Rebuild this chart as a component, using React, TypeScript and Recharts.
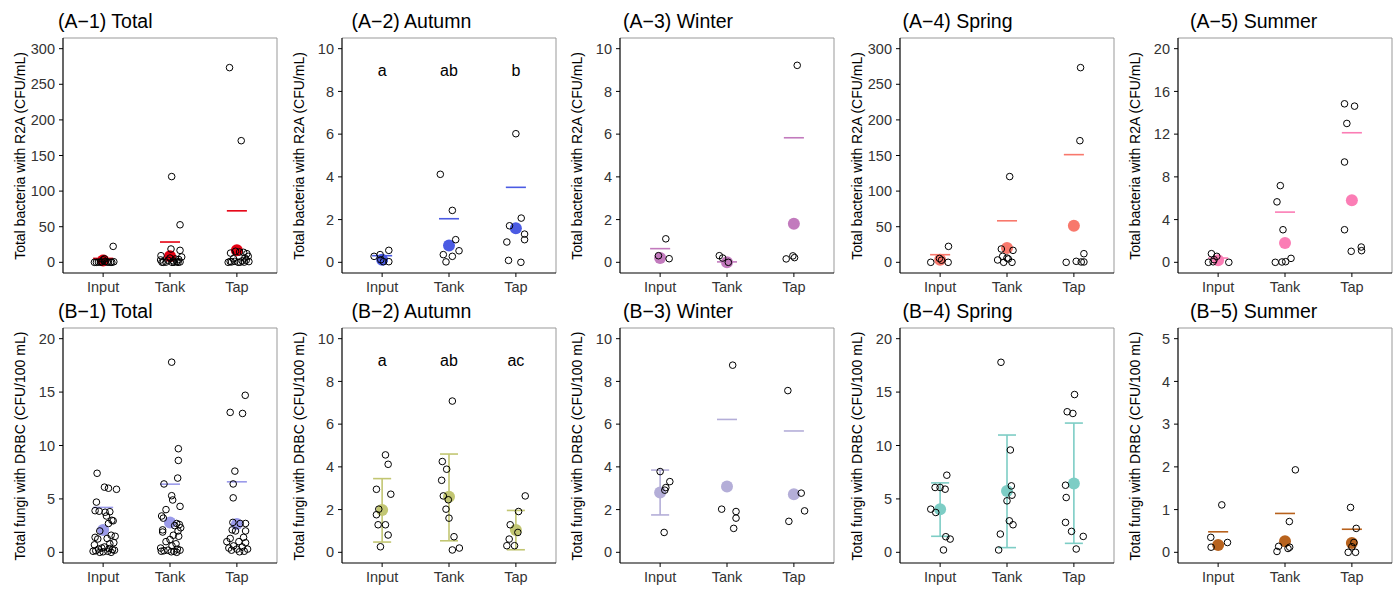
import { ScatterChart, Scatter, XAxis, YAxis, ReferenceLine } from 'recharts';

const groups = ['Input', 'Tank', 'Tap'];
const bacLabel = 'Total bacteria with R2A (CFU/mL)';
const funLabel = 'Total fungi with DRBC (CFU/100 mL)';

// (A-1) Total, R2A
const a1Values = [
  [22.4, 0, 0.3, 0.5, 1.1, 0.2, 0, 3.5, 5, 0.8, 0.1, 0, 0.4, 0.2],
  [120.4, 52.7, 18.7, 16.8, 9.3, 7.5, 4.7, 3.3, 0, 0, 6, 2, 0.3, 1, 0.5, 0, 3, 0.2, 4, 0.1],
  [273.4, 170.8, 13, 15.5, 14.5, 14, 8.4, 0, 0.5, 1.4, 0, 2, 3, 1, 0.3, 5, 0.2, 1.2, 6, 12.1],
];
const a1Jitter = [
  [0.15, -0.13, -0.07, -0.02, 0.03, 0.08, 0.13, 0.0, 0.02, 0.16, 0.11, -0.1, 0.06, -0.04],
  [0.025, 0.15, 0.015, 0.15, -0.135, 0.175, 0.08, -0.14, -0.1, 0.12, 0.0, 0.05, -0.06, 0.1, 0.15, 0.03, -0.03, -0.12, 0.13, 0.06],
  [-0.11, 0.065, -0.095, -0.02, 0.04, 0.1, 0.17, -0.13, -0.08, -0.03, 0.02, 0.08, 0.14, 0.18, 0.11, -0.05, 0.05, -0.1, 0.12, 0.15],
];
const a1Median = [2.5, 8.5, 17];
const a1Mean = [5.5, 28.5, 72.3];

// (A-2) Autumn, R2A
const a2Values = [
  [0.28, 0.36, 0.56, 0.03, 0.03, 0.12],
  [4.12, 2.43, 1.06, 0.54, 0.36, 0.28, 0.02],
  [6.02, 2.07, 1.71, 1.32, 1.06, 0.95, 0.09, 0.0],
];
const a2Jitter = [
  [-0.12, -0.03, 0.1, 0.02, 0.1, -0.02],
  [-0.13, 0.05, 0.1, 0.15, -0.085, 0.05, -0.045],
  [0, 0.08, -0.095, 0.13, 0.13, -0.135, -0.11, 0.075],
];
const a2Median = [0.12, 0.79, 1.6];
const a2Mean = [0.31, 2.04, 3.51];
const a2Letters = ['a', 'ab', 'b'];

// (A-3) Winter, R2A
const a3Values = [
  [1.1, 0.31, 0.17],
  [0.31, 0.2, 0.0],
  [9.22, 0.3, 0.22, 0.16],
];
const a3Jitter = [
  [0.085, -0.025, 0.135],
  [-0.115, -0.065, 0.02],
  [0.05, -0.015, 0.01, -0.115],
];
const a3Median = [0.2, 0.0, 1.8];
const a3Mean = [0.64, 0.02, 5.83];

// (A-4) Spring, R2A
const a4Values = [
  [22.4, 0, 5.5, 3, 0],
  [120.4, 18.7, 16.8, 3.3, 8.4, 6, 0, 4.7, 0],
  [273.4, 170.8, 12.1, 0, 1.4, 0.5, 0.5],
];
const a4Jitter = [
  [0.125, -0.14, -0.01, 0.02, 0.12],
  [0.04, -0.085, 0.09, -0.14, -0.065, 0, -0.05, 0.02, 0.075],
  [0.1, 0.09, 0.15, -0.115, 0.035, 0.11, 0.15],
];
const a4Median = [3.7, 20, 51.3];
const a4Mean = [10.7, 58.3, 151.2];

// (A-5) Summer, R2A
const a5Values = [
  [0.81, 0.56, 0.25, 0.05, 0, 0],
  [7.18, 5.66, 3.05, 0, 0.03, 0.06, 0.37],
  [14.84, 14.62, 13.0, 9.39, 3.05, 1.03, 1.43, 1.09],
];
const a5Jitter = [
  [-0.1, -0.02, -0.06, -0.075, -0.145, 0.16],
  [-0.07, -0.12, -0.03, -0.145, -0.045, 0.01, 0.09],
  [-0.11, 0.04, -0.075, -0.11, -0.11, -0.01, 0.14, 0.145],
];
const a5Median = [0.19, 1.8, 5.82];
const a5Mean = [0.4, 4.7, 12.13];

// (B-1) Total, DRBC
const b1Values = [
  [7.4, 6.1, 6.0, 5.9, 4.7, 3.9, 3.85, 3.8, 3.75, 3.4, 3.0, 2.95, 2.7, 2.0, 1.6, 1.5, 1.4, 1.3, 1.25, 0.9, 0.8, 0.7, 0.5, 0.4, 0.35, 0.3, 0.25, 0.2, 0.15, 0.1, 0.1, 0.05, 0.0, 0.0],
  [17.8, 9.7, 8.6, 6.95, 6.4, 5.3, 4.9, 4.3, 4.0, 3.4, 3.2, 2.7, 2.6, 2.5, 2.3, 2.1, 2.0, 1.9, 1.6, 1.5, 1.2, 1.0, 0.8, 0.6, 0.4, 0.3, 0.2, 0.2, 0.15, 0.1, 0.1, 0.05, 0.0],
  [14.7, 13.1, 13.0, 7.6, 6.4, 5.1, 2.8, 2.7, 2.7, 2.1, 2.0, 2.0, 1.4, 1.3, 1.0, 1.0, 0.9, 0.6, 0.5, 0.4, 0.3, 0.3, 0.2, 0.1, 0.05],
];
const b1Jitter = [
  [-0.09, 0.02, 0.08, 0.2, -0.1, -0.12, -0.06, 0.1, 0.03, 0.05, 0.13, 0.15, 0.08, -0.05, 0.12, 0.18, -0.12, 0.06, -0.08, 0.16, 0.1, -0.13, 0.02, -0.02, 0.09, -0.07, 0.14, 0.17, -0.11, 0.07, -0.15, 0.0, 0.12, -0.05],
  [0.025, 0.125, 0.125, 0.115, -0.09, 0.025, 0.04, 0.15, -0.06, -0.125, -0.1, 0.1, 0.14, 0.07, 0.16, -0.11, 0.12, -0.11, 0.05, 0.13, 0.0, -0.06, 0.09, 0.03, -0.14, 0.11, -0.03, 0.15, -0.09, 0.06, -0.13, 0.02, 0.1],
  [0.125, -0.1, 0.085, -0.03, -0.055, -0.055, -0.06, 0.13, 0.05, -0.07, 0.13, -0.02, 0.1, -0.1, -0.15, 0.03, 0.13, -0.05, 0.08, -0.12, 0.16, 0.0, -0.08, 0.11, 0.04],
];
const b1Median = [2.1, 2.8, 2.64];
const b1Mean = [4.2, 6.38, 6.6];

// (B-2) Autumn, DRBC
const b2Values = [
  [4.56, 4.12, 2.95, 2.72, 2.02, 1.76, 1.29, 1.29, 0.81, 0.26],
  [7.08, 4.25, 3.89, 3.37, 2.64, 2.46, 2.02, 1.6, 0.73, 0.11, 0.2],
  [2.64, 1.91, 1.29, 0.93, 0.62, 0.31, 0.31],
];
const b2Jitter = [
  [0.05, 0.09, -0.085, 0.13, -0.05, -0.085, -0.06, 0.05, 0.09, -0.025],
  [0.05, -0.1, -0.035, -0.11, -0.085, -0.01, -0.045, 0, 0.075, 0.05, 0.155],
  [0.14, 0.04, -0.085, 0.03, -0.1, -0.135, -0.02],
];
const b2Median = [1.98, 2.6, 1.04];
const b2Low = [0.48, 0.54, 0.12];
const b2High = [3.45, 4.6, 1.96];
const b2Letters = ['a', 'ab', 'ac'];

// (B-3) Winter, DRBC
const b3Values = [
  [3.78, 3.31, 3.03, 2.91, 0.93],
  [8.76, 2.02, 1.91, 1.6, 1.12],
  [7.57, 2.77, 1.94, 1.45],
];
const b3Jitter = [
  [0, 0.145, 0.085, 0.07, 0.06],
  [0.085, -0.08, 0.135, 0.135, 0.1],
  [-0.09, 0.11, 0.16, -0.075],
];
const b3Median = [2.8, 3.08, 2.72];
const b3Mean = [null, 6.22, 5.68];
const b3Low = [1.75, null, null];
const b3High = [3.85, null, null];

// (B-4) Spring, DRBC
const b4Values = [
  [7.22, 6.07, 6.07, 5.91, 4.04, 3.73, 1.46, 1.24, 0.22],
  [17.79, 9.58, 6.22, 5.35, 4.82, 2.95, 2.58, 1.71, 0.22],
  [14.77, 13.16, 13.0, 6.28, 5.13, 2.8, 1.96, 1.49, 0.31],
];
const b4Jitter = [
  [0.1, -0.075, 0, 0.075, -0.14, -0.065, 0.085, 0.15, 0.05],
  [-0.09, 0.05, 0.065, 0.075, 0, 0.035, 0.09, -0.1, -0.125],
  [0.01, -0.1, -0.015, -0.125, -0.115, -0.125, -0.035, 0.14, 0.035],
];
const b4Median = [4.04, 5.75, 6.44];
const b4Low = [1.5, 0.44, 0.84];
const b4High = [6.5, 10.98, 12.1];

// (B-5) Summer, DRBC
const b5Values = [
  [1.11, 0.35, 0.12, 0.23],
  [1.93, 0.72, 0.14, 0.02, 0.09, 0.12],
  [1.05, 0.56, 0.23, 0.13, 0, 0],
];
const b5Jitter = [
  [0.055, -0.11, -0.105, 0.14],
  [0.155, 0.065, -0.095, -0.12, 0.045, 0.07],
  [-0.02, 0.065, 0.03, 0.0, -0.055, 0.055],
];
const b5Median = [0.17, 0.26, 0.22];
const b5Mean = [0.48, 0.91, 0.54];

const letterY = 9;

const panels = [
  { title: '(A−1) Total', yLabel: bacLabel, yMax: 300, yTicks: [0, 50, 100, 150, 200, 250, 300], color: '#E60012', values: a1Values, jitter: a1Jitter, median: a1Median, mean: a1Mean },
  { title: '(A−2) Autumn', yLabel: bacLabel, yMax: 10, yTicks: [0, 2, 4, 6, 8, 10], color: '#4B5BE3', values: a2Values, jitter: a2Jitter, median: a2Median, mean: a2Mean, letters: a2Letters },
  { title: '(A−3) Winter', yLabel: bacLabel, yMax: 10, yTicks: [0, 2, 4, 6, 8, 10], color: '#C27ABD', values: a3Values, jitter: a3Jitter, median: a3Median, mean: a3Mean },
  { title: '(A−4) Spring', yLabel: bacLabel, yMax: 300, yTicks: [0, 50, 100, 150, 200, 250, 300], color: '#F8786C', values: a4Values, jitter: a4Jitter, median: a4Median, mean: a4Mean },
  { title: '(A−5) Summer', yLabel: bacLabel, yMax: 20, yTicks: [0, 4, 8, 12, 16, 20], color: '#FB7DB5', values: a5Values, jitter: a5Jitter, median: a5Median, mean: a5Mean },
  { title: '(B−1) Total', yLabel: funLabel, yMax: 20, yTicks: [0, 5, 10, 15, 20], color: '#9B9BEA', values: b1Values, jitter: b1Jitter, median: b1Median, mean: b1Mean },
  { title: '(B−2) Autumn', yLabel: funLabel, yMax: 10, yTicks: [0, 2, 4, 6, 8, 10], color: '#C2C672', values: b2Values, jitter: b2Jitter, median: b2Median, low: b2Low, high: b2High, letters: b2Letters },
  { title: '(B−3) Winter', yLabel: funLabel, yMax: 10, yTicks: [0, 2, 4, 6, 8, 10], color: '#B4AED8', values: b3Values, jitter: b3Jitter, median: b3Median, mean: b3Mean, low: b3Low, high: b3High },
  { title: '(B−4) Spring', yLabel: funLabel, yMax: 20, yTicks: [0, 5, 10, 15, 20], color: '#7DCDC5', values: b4Values, jitter: b4Jitter, median: b4Median, low: b4Low, high: b4High },
  { title: '(B−5) Summer', yLabel: funLabel, yMax: 5, yTicks: [0, 1, 2, 3, 4, 5], color: '#B8621D', values: b5Values, jitter: b5Jitter, median: b5Median, mean: b5Mean },
];

const colLeft = [0, 279, 557, 837, 1115];
const titleLeft = [58, 72.5, 66, 65.5, 75];
const FONT = '"Liberation Sans", Arial, Helvetica, sans-serif';
const W = 280;
const H = 295;

function Panel({ p, col, row }: { p: any; col: number; row: number }) {
  const lo = -0.05 * p.yMax;
  const hi = 1.05 * p.yMax;
  const points = p.values.flatMap((vals: number[], g: number) =>
    vals.map((v, i) => ({ x: g + 1 + p.jitter[g][i], y: v }))
  );
  const medians = p.median.map((v: number, g: number) => ({ x: g + 1, y: v }));
  const letters = p.letters
    ? p.letters.map((t: string, g: number) => ({ x: g + 1, y: letterY, t }))
    : null;

  const segs: any[] = [];
  groups.forEach((_, g) => {
    const c = g + 1;
    if (p.mean && p.mean[g] != null) {
      segs.push({ k: `m${g}`, s: [{ x: c - 0.15, y: p.mean[g] }, { x: c + 0.15, y: p.mean[g] }] });
    }
    if (p.low && p.low[g] != null) {
      segs.push({ k: `v${g}`, s: [{ x: c, y: p.low[g] }, { x: c, y: p.high[g] }] });
      segs.push({ k: `l${g}`, s: [{ x: c - 0.135, y: p.low[g] }, { x: c + 0.135, y: p.low[g] }] });
      segs.push({ k: `h${g}`, s: [{ x: c - 0.135, y: p.high[g] }, { x: c + 0.135, y: p.high[g] }] });
    }
  });

  return (
    <div style={{ position: 'absolute', left: colLeft[col], top: row * 290, width: W, height: H, fontFamily: FONT }}>
      <div style={{ position: 'absolute', left: titleLeft[col], top: 11, fontSize: 19.5, lineHeight: '20px', color: '#000', whiteSpace: 'nowrap' }}>
        {p.title}
      </div>
      <div
        style={{
          position: 'absolute',
          left: 19.5,
          top: 155.5,
          fontSize: 14,
          lineHeight: '14px',
          color: '#000',
          whiteSpace: 'nowrap',
          transform: 'translate(-50%, -50%) rotate(-90deg)',
        }}
      >
        {p.yLabel}
      </div>
      <ScatterChart width={W} height={H} margin={{ top: 38, right: 3, bottom: 0, left: 0 }}>
        <XAxis
          type="number"
          dataKey="x"
          domain={[0.4, 3.6]}
          ticks={[1, 2, 3]}
          tickFormatter={(v) => groups[Math.round(v) - 1]}
          height={22}
          tickSize={4}
          tickMargin={5}
          axisLine={{ stroke: '#000', strokeWidth: 1.2 }}
          tickLine={{ stroke: '#000' }}
          tick={{ fill: '#333', fontSize: 14.5 }}
          allowDataOverflow
        />
        <YAxis
          type="number"
          dataKey="y"
          domain={[lo, hi]}
          ticks={p.yTicks}
          width={63}
          tickSize={4}
          tickMargin={4}
          axisLine={{ stroke: '#000', strokeWidth: 1.2 }}
          tickLine={{ stroke: '#000' }}
          tick={{ fill: '#333', fontSize: 14.5 }}
          allowDataOverflow
        />
        <ReferenceLine y={hi} stroke="#999" strokeWidth={1} />
        <ReferenceLine x={3.6} stroke="#999" strokeWidth={1} />
        {segs.map((sg) => (
          <ReferenceLine key={sg.k} segment={sg.s} stroke={p.color} strokeWidth={1.6} />
        ))}
        <Scatter
          data={medians}
          isAnimationActive={false}
          shape={(s: any) => <circle cx={s.cx} cy={s.cy} r={6} fill={p.color} stroke="none" />}
        />
        <Scatter
          data={points}
          isAnimationActive={false}
          shape={(s: any) => <circle cx={s.cx} cy={s.cy} r={3.3} fill="none" stroke="#000" strokeWidth={1} />}
        />
        {letters && (
          <Scatter
            data={letters}
            isAnimationActive={false}
            shape={(s: any) => (
              <text x={s.cx} y={s.cy} textAnchor="middle" dominantBaseline="central" fontSize={16} fill="#000">
                {s.payload ? s.payload.t : ''}
              </text>
            )}
          />
        )}
      </ScatterChart>
    </div>
  );
}

export default function App() {
  return (
    <div style={{ position: 'absolute', left: 0, top: 0, width: 1397, height: 589, background: '#fff' }}>
      {panels.map((p, i) => (
        <Panel key={p.title} p={p} col={i % 5} row={Math.floor(i / 5)} />
      ))}
    </div>
  );
}
